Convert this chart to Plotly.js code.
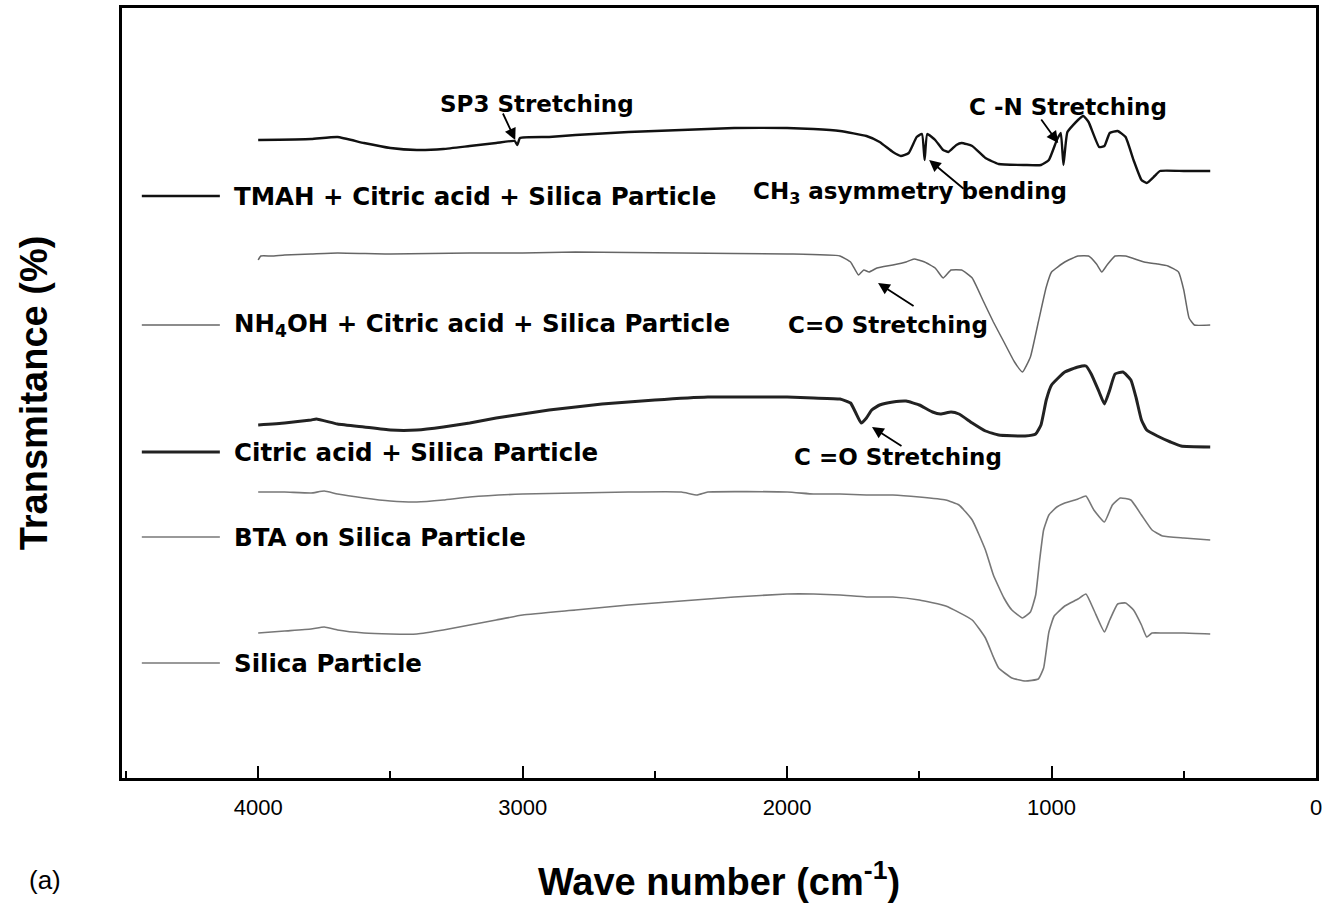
<!DOCTYPE html>
<html>
<head>
<meta charset="utf-8">
<script src="https://cdn.plot.ly/plotly-3.0.1.min.js"></script>
<style>html,body{margin:0;padding:0;background:#fff}#chart{width:1325px;height:903px}</style>
</head>
<body>
<div id="chart"></div>
<script>
// Wavenumbers (cm^-1) and relative transmittance (arbitrary offset units)
var tmahX = [4000,3800,3700,3600,3500,3400,3300,3200,3100,3030,3020,3010,2900,2800,2600,2400,2200,2000,1900,1800,1700,1650,1600,1570,1540,1510,1490,1480,1470,1440,1410,1390,1360,1340,1300,1250,1200,1100,1040,1010,980,965,955,940,900,880,860,820,800,780,750,720,690,660,640,610,590,500,400];
var tmahY = [638,639,641,635,630,628,629,632,635,637,633,640,641,643,646,648,650,650,649,647,642,636,626,622,625,641,644,618,644,638,628,626,633,635,632,620,614,613,613,618,638,645,613,646,658,662,656,631,632,645,647,641,618,598,595,602,607,607,607];

var nhX = [4000,3990,3950,3900,3800,3700,3500,3200,3000,2800,2400,2000,1800,1760,1730,1710,1690,1660,1600,1550,1520,1480,1440,1410,1380,1340,1300,1260,1220,1180,1140,1110,1080,1050,1020,1000,950,900,860,830,810,790,760,720,650,600,560,520,500,480,460,400];
var nhY = [518,522,522,523,524,525,524,525,525,526,525,524,522,516,503,508,506,510,513,516,519,516,510,500,508,508,500,478,456,436,416,406,421,456,491,506,516,522,522,514,506,513,522,522,516,514,512,506,488,460,453,453];

var citX = [4000,3900,3800,3780,3700,3600,3500,3400,3300,3200,3100,3000,2900,2700,2500,2300,2100,2000,1900,1800,1760,1740,1720,1700,1680,1650,1600,1550,1500,1450,1420,1380,1350,1300,1250,1200,1100,1060,1040,1020,1000,950,900,870,850,820,800,780,760,730,700,680,660,640,600,550,510,400];
var citY = [353,355,358,359,354,351,348,348,351,355,360,364,368,374,378,381,381,381,380,379,375,365,355,360,368,373,376,377,373,366,364,366,364,355,347,343,342,344,353,378,393,406,411,412,404,386,374,388,404,406,398,380,358,348,342,336,332,331];

var btaX = [4000,3900,3800,3750,3700,3600,3500,3400,3300,3200,3000,2800,2600,2400,2340,2300,2000,1900,1800,1700,1600,1500,1400,1350,1300,1250,1220,1180,1150,1110,1080,1060,1045,1030,1010,980,950,900,870,840,800,770,740,700,660,620,580,500,400];
var btaY = [286,286,285,287,284,280,277,276,278,281,284,285,286,286,283,286,286,284,284,283,283,281,278,273,258,228,203,180,168,160,166,183,218,248,263,271,275,279,282,268,256,273,280,278,263,248,242,240,238];

var silX = [4000,3900,3800,3750,3700,3600,3500,3400,3300,3200,3100,3000,2800,2600,2400,2200,2000,1900,1800,1700,1600,1500,1400,1300,1250,1220,1200,1150,1100,1050,1030,1010,990,950,900,870,840,800,780,750,720,690,660,640,620,580,500,400];
var silY = [145,147,149,151,148,145,144,144,148,153,158,163,168,173,177,181,184,184,183,181,181,178,172,158,140,121,110,100,97,99,110,146,162,172,179,184,168,146,158,174,175,168,153,141,145,145,145,144];

var seriesNames = ["TMAH + Citric acid + Silica Particle","NH<sub>4</sub>OH + Citric acid + Silica Particle","Citric acid + Silica Particle","BTA on Silica Particle","Silica Particle"];
var xTicks = [4000,3000,2000,1000,0];
var xTickText = ["4000","3000","2000","1000","0"];

var styles = [
  {color:'#111', width:2.4},
  {color:'#666', width:1.5},
  {color:'#222', width:3},
  {color:'#777', width:1.6},
  {color:'#777', width:1.6}
];
var xs = [tmahX, nhX, citX, btaX, silX];
var ys = [tmahY, nhY, citY, btaY, silY];
var legendH = [582, 453, 326, 241, 115];

var traces = xs.map(function(x,i){
  return {x:x, y:ys[i], type:'scatter', mode:'lines', name:seriesNames[i],
          line:{color:styles[i].color, width:styles[i].width, shape:'spline', smoothing:0.4},
          hoverinfo:'skip', showlegend:false};
});

var legendFont = {family:'"DejaVu Sans", sans-serif', size:24.5, color:'#000', weight:'bold'};
var noteFont = {family:'"DejaVu Sans", sans-serif', size:23, color:'#000', weight:'bold'};
var shapes = [], annotations = [];
legendH.forEach(function(h,i){
  shapes.push({type:'line', xref:'x', yref:'y', x0:4440, x1:4145, y0:h, y1:h,
               line:{color:styles[i].color, width:styles[i].width}});
  annotations.push({xref:'x', yref:'y', x:4098, y:h, xanchor:'left', yanchor:'middle',
                    text:'<b>'+seriesNames[i]+'</b>', showarrow:false, font:legendFont});
});

function label(x,y,t){ annotations.push({xref:'x',yref:'y',x:x,y:y,text:'<b>'+t+'</b>',showarrow:false,font:noteFont,xanchor:'center',yanchor:'middle'}); }
function arrow(x,y,ax,ay){ annotations.push({xref:'x',yref:'y',x:x,y:y,ax:ax,ay:ay,text:'',showarrow:true,arrowhead:2,arrowsize:1.3,arrowwidth:1.8,arrowcolor:'#000'}); }

label(2945, 674, 'SP3 Stretching');
arrow(3028, 638, -13, -28);
label(938, 671, 'C -N Stretching');
arrow(975, 635, -18, -25);
label(1535, 585, 'CH<sub>3</sub> asymmetry bending');
arrow(1463, 618, 36, 30);
label(1618, 453, 'C=O Stretching');
arrow(1656, 495, 37, 24);
label(1580, 321, 'C =O Stretching');
arrow(1679, 351, 31, 20);

annotations.push({xref:'paper', yref:'paper', x:-0.0645, y:-0.1325, text:'(a)', showarrow:false,
  font:{family:'"Liberation Sans", Arial, sans-serif', size:26, color:'#000'}, xanchor:'center', yanchor:'middle'});

var titleFont = {family:'"Liberation Sans", Arial, sans-serif', size:38, color:'#000'};
var layout = {
  width:1325, height:903,
  margin:{l:122, r:9, t:8, b:125},
  paper_bgcolor:'#fff', plot_bgcolor:'#fff',
  showlegend:false,
  xaxis:{
    range:[4515, 0], tickmode:'array', tickvals:xTicks, ticktext:xTickText,
    ticks:'inside', ticklen:12, tickwidth:2, tickcolor:'#000', ticklabelstandoff:8,
    minor:{dtick:500, tick0:0, ticks:'inside', ticklen:7, tickwidth:2, tickcolor:'#000'},
    showline:true, linecolor:'#000', linewidth:3, mirror:true, showgrid:false, zeroline:false,
    tickfont:{family:'"Liberation Sans Narrow", "Liberation Sans", Arial, sans-serif', size:22, color:'#000'},
    title:{text:'<b>Wave number (cm<sup>-1</sup>)</b>', standoff:52, font:titleFont}
  },
  yaxis:{
    range:[0, 770], showticklabels:false, ticks:'', showgrid:false, zeroline:false,
    showline:true, linecolor:'#000', linewidth:3, mirror:true,
    title:{text:'<b>Transmitance (%)</b>', standoff:60, font:titleFont}
  },
  shapes:shapes,
  annotations:annotations
};
Plotly.newPlot('chart', traces, layout, {staticPlot:true});
</script>
</body>
</html>
